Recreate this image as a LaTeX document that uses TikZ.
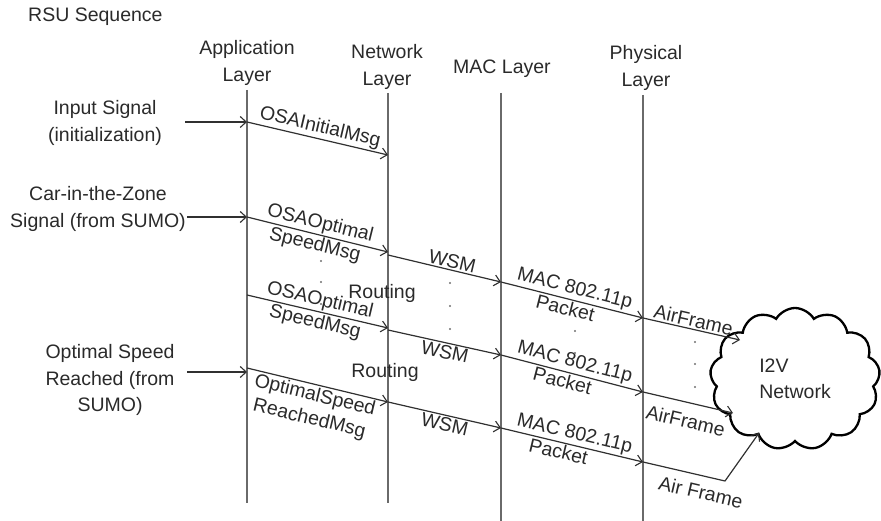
\documentclass[tikz,border=0pt]{standalone}
\usepackage{fontspec}
\setmainfont{Liberation Sans}
\usetikzlibrary{arrows.meta,shapes.symbols}
\definecolor{textc}{HTML}{2A2A2A}
\definecolor{lifec}{HTML}{6A6A6A}
\definecolor{msgc}{HTML}{303030}
\definecolor{dotc}{HTML}{707070}
\begin{document}
\begin{tikzpicture}[x=1pt,y=-1pt,
  txt/.style={font=\fontsize{19.5}{26.5}\selectfont, text=textc, align=center, inner sep=0pt},
  life/.style={draw=lifec, line width=1.6pt},
  msg/.style={draw=msgc, line width=1.2pt, -{Straight Barb[length=6pt,width=11pt,line width=1.1pt]}},
  lab/.style={font=\fontsize{19.5}{24}\selectfont, text=textc, sloped, inner sep=1.5pt, align=center},
  dotm/.style={circle, fill=dotc, inner sep=0pt, minimum size=2.2pt},
]
\useasboundingbox (0,0) rectangle (881,521);

% titles
\node[txt, anchor=west] (title) at (28,17) {RSU Sequence};
\node[txt] (appL) at (247,63) {Application\\Layer};
\node[txt] (netL) at (387,67) {Network\\Layer};
\node[txt] (macL) at (502,69) {MAC Layer};
\node[txt] (phyL) at (646,68) {Physical\\Layer};

% lifelines
\coordinate (appT) at (247,90);  \coordinate (appB) at (247,503);
\coordinate (netT) at (388,93);  \coordinate (netB) at (388,503);
\coordinate (macT) at (501,93);  \coordinate (macB) at (501,521);
\coordinate (phyT) at (643,95);  \coordinate (phyB) at (643,521);
\draw[life] (appT) -- (appB);
\draw[life] (netT) -- (netB);
\draw[life] (macT) -- (macB);
\draw[life] (phyT) -- (phyB);

% external signals
\node[txt] (in1) at (105,123) {Input Signal\\(initialization)};
\node[txt] (in2) at (98,209) {Car-in-the-Zone\\Signal (from SUMO)};
\node[txt] (in3) at (110,380) {Optimal Speed\\Reached (from\\SUMO)};
\coordinate (s1) at (185,122);
\coordinate (s2) at (187,217);
\coordinate (s3) at (187,372);
\draw[msg] (s1) -- (appT |- 0,122);
\draw[msg] (s2) -- (appT |- 0,217);
\draw[msg] (s3) -- (appT |- 0,372);

% cloud
\node[cloud, draw=black, line width=2.3pt, cloud puffs=13, cloud puff arc=120,
      aspect=1.2, minimum width=170pt, minimum height=142pt,
      txt, align=left] (cloudN) at (795,379) {I2V\\Network};
\coordinate (c1) at (740,340);
\coordinate (c2) at (733,413);
\coordinate (bend) at (725,481);
\coordinate (c3) at (759,433);

% group 1
\draw[msg] (appT |- 0,122) -- node[lab, above]{OSAInitialMsg} (netT |- 0,155);
\draw[msg] (appT |- 0,217) -- node[lab, above]{OSAOptimal} node[lab, below]{SpeedMsg} (netT |- 0,252);
\draw[msg] (netT |- 0,255) -- node[lab, above, pos=0.55]{WSM} (macT |- 0,282);
\draw[msg] (macT |- 0,282) -- node[lab, above]{MAC 802.11p} node[lab, below, pos=0.47]{Packet} (phyT |- 0,318);
\draw[msg] (phyT |- 0,318) -- node[lab, above]{AirFrame} (c1);

% group 2
\draw[msg] (appT |- 0,295) -- node[lab, above]{OSAOptimal} node[lab, below]{SpeedMsg} (netT |- 0,328);
\draw[msg] (netT |- 0,330) -- node[lab, below, pos=0.52]{WSM} (macT |- 0,355);
\draw[msg] (macT |- 0,355) -- node[lab, above]{MAC 802.11p} node[lab, below, pos=0.45]{Packet} (phyT |- 0,392);
\draw[msg] (phyT |- 0,392) -- node[lab, below=9pt, pos=0.52]{AirFrame} (c2);

% group 3
\draw[msg] (appT |- 0,368) -- node[lab, below]{OptimalSpeed\\ReachedMsg} (netT |- 0,402);
\draw[msg] (netT |- 0,402) -- node[lab, below, pos=0.52]{WSM} (macT |- 0,428);
\draw[msg] (macT |- 0,428) -- node[lab, above]{MAC 802.11p} node[lab, below, pos=0.42]{Packet} (phyT |- 0,462);
\draw[msg] (phyT |- 0,462) -- node[lab, below=7pt, pos=0.75]{Air Frame} (bend) -- (c3);

% routing labels
\node[txt] (rt1) at (382,293) {Routing};
\node[txt] (rt2) at (385,372) {Routing};

% continuation dots
\foreach \y [count=\i] in {261,282,304} \node[dotm] (da\i) at (321,\y) {};
\foreach \y [count=\i] in {283,306,329} \node[dotm] (db\i) at (450,\y) {};
\foreach \y [count=\i] in {331,353} \node[dotm] (dc\i) at (575,\y) {};
\foreach \y [count=\i] in {342,364,387} \node[dotm] (dd\i) at (695,\y) {};
\end{tikzpicture}
\end{document}
